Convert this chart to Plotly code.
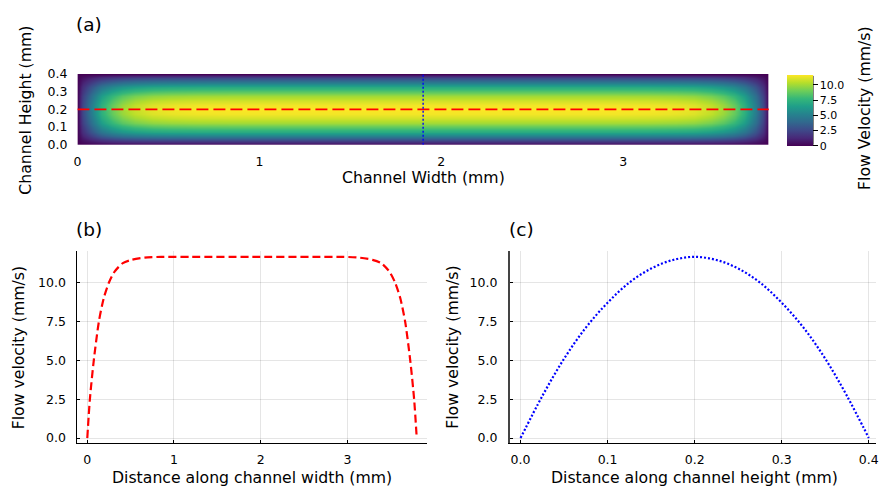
import numpy as np
import plotly.graph_objects as go

# Velocity along the channel width, taken at mid-height (y = 0.2 mm)
width_mm = [0, 0.03, 0.075, 0.134, 0.19, 0.25, 0.315, 0.41, 0.51, 0.66, 0.85, 1.2, 1.9,
            2.6, 2.95, 3.14, 3.29, 3.39, 3.485, 3.55, 3.61, 3.666, 3.725, 3.77, 3.8]
width_vel = [0, 2.5, 5.0, 7.5, 9.0, 10.0, 10.7, 11.25, 11.46, 11.6, 11.65, 11.65, 11.65,
             11.65, 11.65, 11.6, 11.46, 11.25, 10.7, 10.0, 9.0, 7.5, 5.0, 2.5, 0]

# Velocity across the channel height, taken at x = 1.9 mm
height_mm = [0, 0.025, 0.05, 0.075, 0.1, 0.125, 0.15, 0.175, 0.2,
             0.225, 0.25, 0.275, 0.3, 0.325, 0.35, 0.375, 0.4]
height_vel = [0, 2.7, 5.1, 7.1, 8.7, 10.0, 10.9, 11.45, 11.65,
              11.45, 10.9, 10.0, 8.7, 7.1, 5.1, 2.7, 0]

slice_y = 0.2   # horizontal cut shown in (b)
slice_x = 1.9   # vertical cut shown in (c)

cbar_ticks = [0, 2.5, 5.0, 7.5, 10.0]
cbar_text = ["0", "2.5", "5.0", "7.5", "10.0"]

W, H = 879, 497
FONT = "DejaVu Sans"
INK = "#000000"

def px(x):
    return x / W

def py(y):
    return 1 - y / H

# Cross-section field built from the two measured profiles
peak = max(width_vel)
field = np.outer(height_vel, width_vel) / peak

fig = go.Figure()

fig.add_trace(go.Heatmap(
    x=width_mm, y=height_mm, z=field, zsmooth="best",
    colorscale="Viridis", zmin=0, zmax=peak,
    xaxis="x", yaxis="y",
    colorbar=dict(
        x=px(789), xanchor="left", xpad=0,
        y=py(105.5), yanchor="middle", ypad=0,
        len=71, lenmode="pixels", thickness=26, thicknessmode="pixels",
        outlinewidth=0,
        tickvals=cbar_ticks, ticktext=cbar_text,
        ticks="outside", ticklen=5, tickcolor=INK, tickwidth=1,
        tickfont=dict(family=FONT, size=11, color=INK),
    ),
))
fig.add_trace(go.Scatter(
    x=[width_mm[0], width_mm[-1]], y=[slice_y, slice_y], mode="lines",
    line=dict(color="#ff0000", width=1.6, dash="12px,5px"),
    xaxis="x", yaxis="y", showlegend=False, hoverinfo="skip"))
fig.add_trace(go.Scatter(
    x=[slice_x, slice_x], y=[height_mm[0], height_mm[-1]], mode="lines",
    line=dict(color="#0000ff", width=1.4, dash="2px,2px"),
    xaxis="x", yaxis="y", showlegend=False, hoverinfo="skip"))

fig.add_trace(go.Scatter(
    x=width_mm, y=width_vel, mode="lines",
    line=dict(color="#ff0000", width=2.2, dash="8px,4px", shape="spline", smoothing=0.7),
    xaxis="x2", yaxis="y2", showlegend=False))

fig.add_trace(go.Scatter(
    x=height_mm, y=height_vel, mode="lines",
    line=dict(color="#0000ff", width=2.2, dash="2px,2px", shape="spline", smoothing=1.0),
    xaxis="x3", yaxis="y3", showlegend=False))

tick_font = dict(family=FONT, size=12.5, color=INK)
common = dict(tickfont=tick_font, zeroline=False, ticks="", showline=False,
              gridcolor="rgba(0,0,0,0.1)", gridwidth=1, ticklabeloverflow="allow")
panel_axis = dict(common, showline=True, linecolor=INK, linewidth=1, showgrid=True,
                  ticks="inside", ticklen=3, tickcolor=INK)

fig.update_layout(
    width=W, height=H, margin=dict(l=0, r=0, t=0, b=0),
    paper_bgcolor="white", plot_bgcolor="white", showlegend=False,
    xaxis=dict(common, domain=[px(74), px(771)], range=[0, 3.8], anchor="y",
               tickvals=[0, 1, 2, 3], ticktext=["0", "1", "2", "3"],
               showgrid=False, ticklabelstandoff=8),
    yaxis=dict(common, domain=[py(141), py(68)], range=[0, 0.4], anchor="x",
               tickvals=[0, 0.1, 0.2, 0.3, 0.4],
               ticktext=["0.0", "0.1", "0.2", "0.3", "0.4"], showgrid=False,
               ticklabelstandoff=9),
    xaxis2=dict(panel_axis, domain=[px(74), px(426)], range=[-0.114, 3.914], anchor="y2",
                tickvals=[0, 1, 2, 3], ticktext=["0", "1", "2", "3"], ticklabelstandoff=5),
    yaxis2=dict(panel_axis, domain=[py(449), py(251)], range=[-0.35, 12.0], anchor="x2",
                tickvals=[0, 2.5, 5, 7.5, 10],
                ticktext=["0.0", "2.5", "5.0", "7.5", "10.0"], ticklabelstandoff=8),
    xaxis3=dict(panel_axis, domain=[px(510), 1.0], range=[-0.0122, 0.4083], anchor="y3",
                tickvals=[0, 0.1, 0.2, 0.3, 0.4],
                ticktext=["0.0", "0.1", "0.2", "0.3", "0.4"], ticklabelstandoff=5),
    yaxis3=dict(panel_axis, domain=[py(449), py(251)], range=[-0.35, 12.0], anchor="x3",
                tickvals=[0, 2.5, 5, 7.5, 10], linewidth=2, linecolor="#444444",
                ticktext=["0.0", "2.5", "5.0", "7.5", "10.0"], ticklabelstandoff=8),
)

# axis spine along the right edge of the colour bar
fig.add_shape(type="line", xref="paper", yref="paper",
              x0=px(815.5), x1=px(815.5), y0=py(141), y1=py(70),
              line=dict(color=INK, width=1))

def label(text, x, y, size=15.7, angle=0, xanchor="center"):
    fig.add_annotation(text=text, x=px(x), y=py(y), xref="paper", yref="paper",
                       xanchor=xanchor, yanchor="middle", textangle=angle,
                       showarrow=False, borderpad=0,
                       font=dict(family=FONT, size=size, color=INK))

label("(a)", 72, 17, size=18.5, xanchor="left")
label("(b)", 72, 228, size=18.5, xanchor="left")
label("(c)", 508, 228, size=18.5, xanchor="left")
label("Channel Width (mm)", 423, 175)
label("Channel Height (mm)", 22, 105, angle=-90)
label("Flow Velocity (mm/s)", 868, 103, angle=-90)
label("Flow velocity (mm/s)", 15, 350, angle=-90)
label("Flow velocity (mm/s)", 452, 350, angle=-90)
label("Distance along channel width (mm)", 250, 484)
label("Distance along channel height (mm)", 696, 484)

fig.write_html("out.html")
